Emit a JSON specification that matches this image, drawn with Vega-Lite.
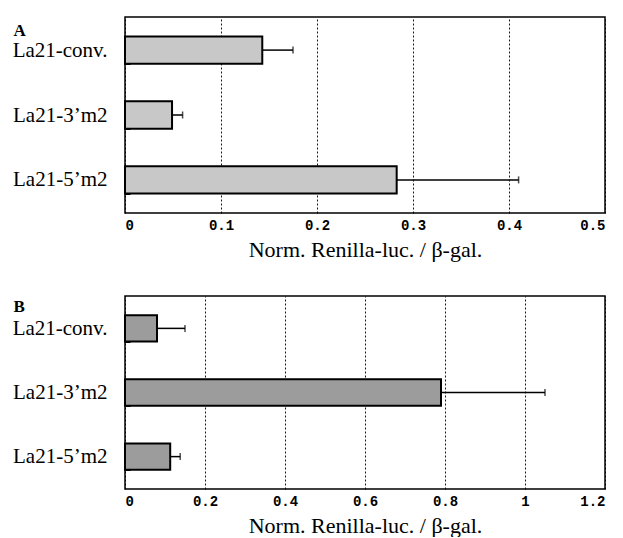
{
  "$schema": "https://vega.github.io/schema/vega-lite/v6.json",
  "background": "white",
  "padding": {"left": 11, "top": 5, "right": 5, "bottom": 0},
  "datasets": {
    "a": [
      {"sample": "La21-conv.", "value": 0.143, "err": 0.175},
      {"sample": "La21-3’m2", "value": 0.049, "err": 0.060},
      {"sample": "La21-5’m2", "value": 0.283, "err": 0.410}
    ],
    "b": [
      {"sample": "La21-conv.", "value": 0.08, "err": 0.15},
      {"sample": "La21-3’m2", "value": 0.79, "err": 1.05},
      {"sample": "La21-5’m2", "value": 0.113, "err": 0.138}
    ]
  },
  "config": {
    "view": {"stroke": "black", "strokeWidth": 1.5},
    "axis": {"domain": false, "labelColor": "black", "titleColor": "black"},
    "axisX": {
      "grid": true, "gridColor": "black", "gridDash": [2, 2], "gridWidth": 1, "gridOpacity": 0.9,
      "ticks": false, "labelFont": "Liberation Mono", "labelFontWeight": "bold", "labelFontSize": 14,
      "labelPadding": 5, "titleFont": "Liberation Serif", "titleFontSize": 22, "titleFontWeight": "normal",
      "titlePadding": 7
    },
    "axisY": {
      "grid": false, "ticks": true, "tickSize": -5, "tickColor": "black", "tickBand": "extent",
      "labelFont": "Liberation Serif", "labelFontSize": 21, "labelPadding": 23,
      "titleFont": "Liberation Serif", "titleFontSize": 17, "titleFontWeight": "bold", "titleAngle": 0,
      "titleAlign": "left", "titleBaseline": "alphabetic"
    },
    "concat": {"spacing": 23}
  },
  "vconcat": [
    {
      "width": 480, "height": 196,
      "data": {"name": "a"},
      "encoding": {
        "y": {"field": "sample", "type": "nominal", "sort": null,
          "scale": {"paddingInner": 0.58, "paddingOuter": 0.3},
          "axis": {"title": "A", "titleX": -112, "titleY": 18}}
      },
      "layer": [
        {"mark": {"type": "bar", "fill": "#c8c8c8", "stroke": "black", "strokeWidth": 2},
          "encoding": {"x": {"field": "value", "type": "quantitative",
            "scale": {"domain": [0, 0.5], "nice": false},
            "axis": {"values": [0, 0.1, 0.2, 0.3, 0.4, 0.5], "format": "~g", "title": "Norm. Renilla-luc. / β-gal."}}}},
        {"mark": {"type": "rule", "color": "black", "strokeWidth": 1.5},
          "encoding": {"x": {"field": "value", "type": "quantitative"}, "x2": {"field": "err"}}},
        {"mark": {"type": "tick", "color": "black", "thickness": 1.5, "size": 7},
          "encoding": {"x": {"field": "err", "type": "quantitative"}}}
      ]
    },
    {
      "width": 480, "height": 193,
      "data": {"name": "b"},
      "encoding": {
        "y": {"field": "sample", "type": "nominal", "sort": null,
          "scale": {"paddingInner": 0.59, "paddingOuter": 0.3},
          "axis": {"title": "B", "titleX": -112, "titleY": 15}}
      },
      "layer": [
        {"mark": {"type": "bar", "fill": "#9c9c9c", "stroke": "black", "strokeWidth": 2},
          "encoding": {"x": {"field": "value", "type": "quantitative",
            "scale": {"domain": [0, 1.2], "nice": false},
            "axis": {"values": [0, 0.2, 0.4, 0.6, 0.8, 1, 1.2], "format": "~g", "title": "Norm. Renilla-luc. / β-gal."}}}},
        {"mark": {"type": "rule", "color": "black", "strokeWidth": 1.5},
          "encoding": {"x": {"field": "value", "type": "quantitative"}, "x2": {"field": "err"}}},
        {"mark": {"type": "tick", "color": "black", "thickness": 1.5, "size": 7},
          "encoding": {"x": {"field": "err", "type": "quantitative"}}}
      ]
    }
  ]
}
